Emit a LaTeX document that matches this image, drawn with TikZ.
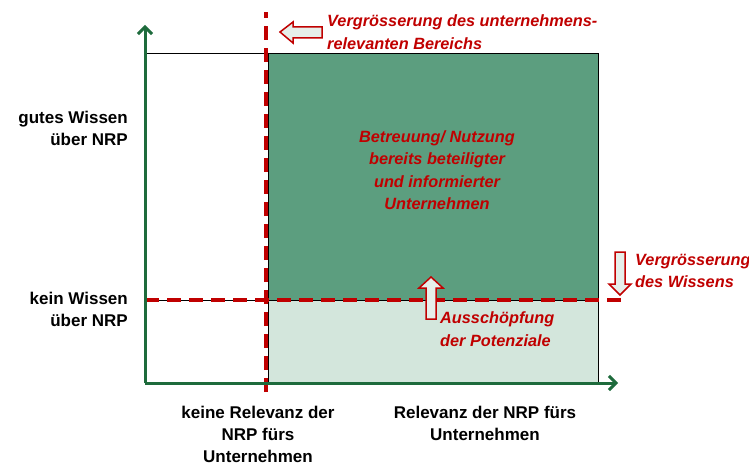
\documentclass[tikz,border=0pt]{standalone}
\usepackage{fontspec}
\setmainfont{Liberation Sans}
\usetikzlibrary{arrows.meta}
\definecolor{axisgreen}{HTML}{1E6B3C}
\definecolor{darkfill}{HTML}{5C9E7F}
\definecolor{lightfill}{HTML}{D3E6DC}
\definecolor{redtxt}{HTML}{C00000}
\definecolor{arrowfill}{HTML}{E6EFEA}
\begin{document}
\begin{tikzpicture}[x=1pt,y=-1pt,
  axis/.style={draw=axisgreen,line width=3pt,-{Straight Barb[length=7pt,width=14pt,line width=3pt]}},
  reddash/.style={draw=redtxt,line width=3.5pt,dash pattern=on 14pt off 8pt},
  thin/.style={draw=black,line width=0.8pt},
  blockarrow/.style={draw=redtxt,line width=1.5pt,fill=arrowfill,line join=miter},
  redlabel/.style={text=redtxt,font=\fontsize{16.3}{22.5}\selectfont\bfseries\itshape,inner sep=0pt},
  blacklabel/.style={text=black,font=\fontsize{17}{22}\selectfont\bfseries,inner sep=0pt}]
\useasboundingbox (0,0) rectangle (749,465);
% fills
\fill[darkfill] (268,53) rectangle (598,300);
\fill[lightfill] (268,300) rectangle (598,383);
% thin black lines
\draw[thin] (145,53) -- (598,53) -- (598,383);
\draw[thin] (145,300) -- (598,300);
\draw[thin] (268,53) -- (268,383);
% red dashed lines
\draw[reddash] (266,392) -- (266,12);
\draw[reddash] (145,300) -- (622,300);
% axes
\coordinate (o) at (145,383);
\coordinate (ytip) at (145,25);
\coordinate (xtip) at (618,383);
\draw[axis] (o) -- (ytip);
\draw[axis] (o) -- (xtip);
% block arrows
\draw[blockarrow] (280,32) -- (293,22) -- (293,27) -- (322,27) -- (322,38) -- (293,38) -- (293,43) -- cycle;
\draw[blockarrow] (431,277) -- (443,288) -- (436,288) -- (436,319) -- (426,319) -- (426,288) -- (419,288) -- cycle;
\draw[blockarrow] (620,295) -- (631,284) -- (625,284) -- (625,252) -- (615,252) -- (615,284) -- (609,284) -- cycle;
% red labels
\node[redlabel,anchor=west,align=left] (t1) at (327,32) {Vergrösserung des unternehmens-\\relevanten Bereichs};
\node[redlabel,align=center] (t2) at (437,170) {Betreuung/ Nutzung\\bereits beteiligter\\und informierter\\Unternehmen};
\node[redlabel,anchor=west,align=left] (t3) at (635,271) {Vergrösserung\\des Wissens};
\node[redlabel,anchor=west,align=left] (t4) at (440,329) {Ausschöpfung\\der Potenziale};
% black labels
\node[blacklabel,anchor=east,align=right] (l1) at (128,128) {gutes Wissen\\über NRP};
\node[blacklabel,anchor=east,align=right] (l2) at (128,309) {kein Wissen\\über NRP};
\node[blacklabel,align=center] (l3) at (258,434) {keine Relevanz der\\NRP fürs\\Unternehmen};
\node[blacklabel,align=center] (l4) at (485,423) {Relevanz der NRP fürs\\Unternehmen};
\end{tikzpicture}
\end{document}
